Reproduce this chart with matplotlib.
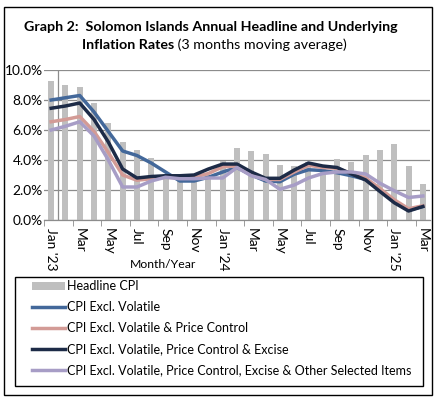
import matplotlib
matplotlib.use("Agg")
import matplotlib.pyplot as plt
from matplotlib.lines import Line2D
from matplotlib.patches import Patch, Rectangle
import numpy as np

plt.rcParams['font.family'] = ['Lato', 'DejaVu Sans']

months = ["Jan-23", "Feb-23", "Mar-23", "Apr-23", "May-23", "Jun-23", "Jul-23", "Aug-23", "Sep-23",
          "Oct-23", "Nov-23", "Dec-23", "Jan-24", "Feb-24", "Mar-24", "Apr-24", "May-24", "Jun-24",
          "Jul-24", "Aug-24", "Sep-24", "Oct-24", "Nov-24", "Dec-24", "Jan-25", "Feb-25", "Mar-25"]
tick_labels = ["Jan '23", "Mar", "May", "Jul", "Sep", "Nov", "Jan '24", "Mar", "May", "Jul",
               "Sep", "Nov", "Jan '25", "Mar"]

headline = [9.3, 9.0, 8.85, 7.8, 6.5, 5.2, 4.65, 4.15, 3.1, 2.8, 2.9, 3.0, 3.95, 4.8, 4.6, 4.4,
            3.7, 3.6, 3.9, 3.7, 4.05, 3.9, 4.35, 4.65, 5.05, 3.6, 2.4]
excl_volatile = [8.0, 8.15, 8.3, 7.2, 5.9, 4.6, 4.3, 3.8, 3.2, 2.6, 2.6, 2.85, 3.2, 3.5, 3.0, 2.6,
                 2.55, 3.05, 3.35, 3.3, 3.15, 2.95, 2.7, 2.0, 1.25, 0.65, 0.9]
excl_vol_pc = [6.55, 6.7, 6.9, 5.9, 4.5, 3.0, 2.65, 2.75, 2.85, 2.8, 2.85, 3.1, 3.55, 3.6, 3.05,
               2.7, 2.7, 3.2, 3.65, 3.5, 3.45, 3.1, 2.8, 2.1, 1.35, 0.75, 0.95]
excl_vol_pc_exc = [7.45, 7.6, 7.8, 6.7, 5.2, 3.4, 2.8, 2.9, 2.95, 2.95, 3.0, 3.4, 3.73, 3.73, 3.2,
                   2.78, 2.78, 3.33, 3.8, 3.6, 3.5, 3.07, 2.67, 1.9, 1.15, 0.6, 0.9]
excl_all = [6.0, 6.25, 6.55, 5.6, 4.0, 2.2, 2.2, 2.6, 2.85, 2.75, 2.75, 2.8, 2.8, 3.5, 2.95, 2.7,
            2.05, 2.33, 2.8, 3.1, 3.2, 3.2, 3.07, 2.45, 1.95, 1.5, 1.6]

series_names = ["CPI Excl. Volatile", "CPI Excl. Volatile & Price Control",
                "CPI Excl. Volatile, Price Control & Excise",
                "CPI Excl. Volatile, Price Control, Excise & Other Selected Items"]
colors = ["#43689A", "#D39B96", "#1D2B47", "#A79DC6"]

W, H = 443, 408
fig = plt.figure(figsize=(W / 100, H / 100), dpi=100)
renderer = fig.canvas.get_renderer()


def text_width(text, size, weight='normal'):
    t = fig.text(0, 0, text, fontsize=size, fontweight=weight)
    w = t.get_window_extent(renderer).width
    t.remove()
    return w


def fit_size(text, target_px, weight='normal'):
    return 10 * target_px / text_width(text, 10, weight)


ax = fig.add_axes([44 / W, 1 - 220 / H, (430 - 44) / W, 150 / H])

x = np.arange(len(months))
ax.bar(x, headline, width=0.42, color="#BFBFBF", zorder=2)
for vals, c in zip([excl_volatile, excl_vol_pc, excl_vol_pc_exc, excl_all], colors):
    ax.plot(x, vals, color=c, lw=2.5, zorder=3, solid_joinstyle='round')

ytick_fs = fit_size("10.0%", 38)
ax.set_xlim(-0.5, len(months) - 0.5)
ax.set_ylim(0, 10)
ax.set_yticks(np.arange(0, 10.1, 2))
ax.set_yticklabels([f"{v:.1f}%" for v in np.arange(0, 10.1, 2)], fontsize=ytick_fs)
ax.tick_params(axis='y', length=0, pad=1)
ax.grid(axis='y', color="#8C8C8C", lw=0.9, zorder=1)
ax.axvline(0.5, color="#8C8C8C", lw=0.9, zorder=1)

ax.set_xticks(x[::2])
ax.set_xticklabels(tick_labels, rotation=-90, fontsize=ytick_fs, ha='center', va='top')
ax.set_xticks(np.arange(-0.5, len(months), 2), minor=True)
ax.tick_params(axis='x', which='major', length=0, pad=6)
ax.tick_params(axis='x', which='minor', length=4, color="#8C8C8C", direction='out')
for s in ['top', 'right', 'left']:
    ax.spines[s].set_visible(False)
ax.spines['bottom'].set_color("#8C8C8C")
ax.spines['bottom'].set_linewidth(0.9)

fig.text(163 / W, 1 - 265 / H, "Month/Year", fontsize=fit_size("Month/Year", 67),
         ha='center', va='center')

title1 = "Graph 2:  Solomon Islands Annual Headline and Underlying"
title_fs = fit_size(title1, 373, 'bold')
fig.text(24 / W, 1 - 27 / H, title1, fontsize=title_fs,
         fontweight='bold', ha='left', va='center')
part_a = "Inflation Rates"
part_b = " (3 months moving average)"
wa = text_width(part_a, title_fs, 'bold')
wb = text_width(part_b, title_fs)
x0 = 214 - (wa + wb) / 2
fig.text(x0 / W, 1 - 45 / H, part_a, fontsize=title_fs, fontweight='bold',
         ha='left', va='center')
fig.text((x0 + wa) / W, 1 - 45 / H, part_b, fontsize=title_fs, ha='left', va='center')

leg_fs = fit_size(series_names[-1], 343)
handles = [Patch(facecolor="#BFBFBF", edgecolor='none')] + \
          [Line2D([0], [0], color=c, lw=2.5) for c in colors]
labels = ["Headline CPI"] + series_names
leg = fig.legend(handles, labels, loc='upper left',
                 bbox_to_anchor=(32 / W, 1 - 280 / H),
                 fontsize=leg_fs, frameon=False,
                 handlelength=2.6, handletextpad=0.2, labelspacing=0.72,
                 borderpad=0, borderaxespad=0, handleheight=0.6)

fig.add_artist(Rectangle((15 / W, 1 - 386 / H), 408 / W, 109 / H, transform=fig.transFigure,
                         fill=False, edgecolor='black', lw=1.0))
fig.add_artist(Rectangle((4 / W, 1 - 395 / H), 428 / W, 388 / H, transform=fig.transFigure,
                         fill=False, edgecolor='black', lw=1.0))

fig.savefig("out.png", dpi=100)
